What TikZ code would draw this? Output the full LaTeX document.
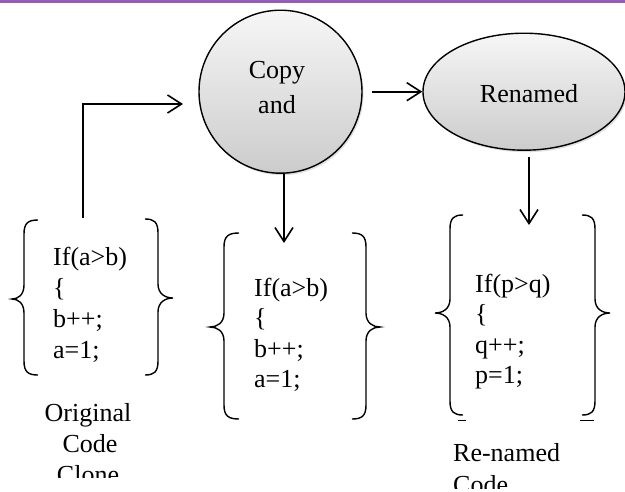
\documentclass[tikz,border=0pt]{standalone}
\usepackage{fontspec}
\setmainfont{Liberation Serif}
\usetikzlibrary{arrows.meta,shapes.geometric,shadows}
\definecolor{topbar}{RGB}{150,92,186}
% #1 vx, #2 top, #3 bottom, #4 mid, #5 sign (+1 left brace, -1 right brace), #6 hook, #7 tip
\newcommand\drawbrace[7]{%
  \draw[bracestyle] ({#1+#5*#6},#2) .. controls ({#1+#5*#6*0.3},#2) and (#1,{#2+3}) .. (#1,{#2+14})
    -- (#1,{#4-14}) .. controls (#1,{#4-4}) and ({#1-#5*#7*0.5},#4) .. ({#1-#5*#7},#4)
    .. controls ({#1-#5*#7*0.5},#4) and (#1,{#4+4}) .. (#1,{#4+14})
    -- (#1,{#3-14}) .. controls (#1,{#3-3}) and ({#1+#5*#6*0.3},#3) .. ({#1+#5*#6},#3);}
% #1 name, #2 x, #3 first baseline, #4 step, #5-#8 lines
\newcommand\codeblock[8]{%
  \node[code] (#1a) at (#2,#3) {#5};
  \node[code] (#1b) at (#2,{#3+#4}) {#6};
  \node[code] (#1c) at (#2,{#3+2*#4}) {#7};
  \node[code] (#1d) at (#2,{#3+3*#4}) {#8};}
\begin{document}
\begin{tikzpicture}[x=1pt,y=-1pt,
  txt/.style={font=\fontsize{26}{31}\selectfont, inner sep=0pt},
  code/.style={txt, anchor=base west},
  lbl/.style={txt, anchor=base},
  lbll/.style={txt, anchor=base west},
  conn/.style={line width=1.6pt, -{Straight Barb[length=14pt,width=18pt,line width=1.6pt]}},
  bracestyle/.style={line width=1.4pt},
  bubble/.style={draw, line width=1.4pt, top color=gray!7, bottom color=gray!40, inner sep=0pt,
    drop shadow={opacity=0.25, shadow xshift=1.5pt, shadow yshift=-2pt}},
]
\useasboundingbox (0,0) rectangle (625,491);
\fill[topbar] (0,0) rectangle (625,2.5);

% bubbles
\node[bubble, circle, minimum size=163pt] (copy) at (280.5,91.7) {};
\node[lbl] (copyt1) at (277,78) {Copy};
\node[lbl] (copyt2) at (277,113) {and};
\node[bubble, ellipse, minimum width=202pt, minimum height=117pt] (ren) at (524,91.7) {};
\node[lbl] (rent) at (529,102) {Renamed};

% code block 1 (original)
\drawbrace{24}{220}{375}{299}{1}{14}{12}
\drawbrace{158}{219}{375}{298}{-1}{13}{15}
\codeblock{ca}{53}{265}{31}{If(a>b)}{\{}{b++;}{a=1;}
\begin{scope}
  \clip (0,0) rectangle (625,477);
  \node[lbl] (orig1) at (88,421) {Original};
  \node[lbl] (orig2) at (90,452) {Code};
  \node[lbl] (orig3) at (88,483) {Clone};
\end{scope}

% code block 2 (copy)
\drawbrace{224}{233}{419}{327}{1}{15}{14}
\drawbrace{366}{233}{419}{327}{-1}{14}{14}
\codeblock{cb}{254}{296}{30.5}{If(a>b)}{\{}{b++;}{a=1;}

% code block 3 (renamed)
\drawbrace{450}{215}{415}{313}{1}{13}{15}
\drawbrace{595}{215}{415}{313}{-1}{13}{15}
\draw[line width=1pt] (458,420) -- (466,420);
\draw[line width=1pt] (580,420) -- (594,420);
\codeblock{cc}{475}{292}{30.5}{If(p>q)}{\{}{q++;}{p=1;}
\begin{scope}
  \clip (0,0) rectangle (625,488);
  \node[lbll] (rn1) at (453,461) {Re-named};
  \node[lbll] (rn2) at (453,493) {Code};
\end{scope}

% connectors
\coordinate (s1) at (83,218);
\coordinate (e1) at (183,104);
\draw[conn] (s1) |- (e1);
\draw[conn] ([xshift=9pt]copy.east) -- (ren.west);
\coordinate (e2) at (284,243);
\draw[conn] (copy.south -| e2) -- (e2);
\coordinate (s3) at (529,157);
\coordinate (e3) at (529,225);
\draw[conn] (s3) -- (e3);
\end{tikzpicture}
\end{document}
